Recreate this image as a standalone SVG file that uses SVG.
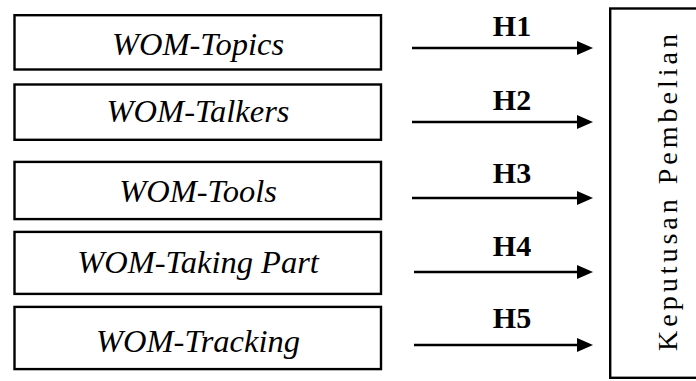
<svg xmlns="http://www.w3.org/2000/svg" width="696" height="381" viewBox="0 0 696 381">
  <style>
    .box { fill: #ffffff; stroke: #000000; stroke-width: 2.4; }
    .shaft { stroke: #000000; stroke-width: 2.6; fill: none; }
    .tip { fill: #000000; stroke: none; }
  </style>
  <defs>
    <polygon id="head" class="tip" points="-16,-7 0,0 -16,7"/>
  </defs>
  <rect width="696" height="381" fill="#ffffff"/>

  <!-- independent variables -->
  <g font-family="Liberation Serif, Times New Roman, serif" font-style="italic" font-size="32.5" text-anchor="middle" fill="#000000">
    <g id="topics">
      <rect class="box" x="14.5" y="15.2" width="366.5" height="54.3"/>
      <text x="198" y="55">WOM-Topics</text>
    </g>
    <g id="talkers">
      <rect class="box" x="14.5" y="84.5" width="366.5" height="55.3"/>
      <text x="198" y="122">WOM-Talkers</text>
    </g>
    <g id="tools">
      <rect class="box" x="14.5" y="161.9" width="366.5" height="57.2"/>
      <text x="198" y="201.5">WOM-Tools</text>
    </g>
    <g id="taking-part">
      <rect class="box" x="14.5" y="231.9" width="366.5" height="62"/>
      <text x="198" y="273.3">WOM-Taking Part</text>
    </g>
    <g id="tracking">
      <rect class="box" x="14.5" y="306.9" width="366.5" height="62.2"/>
      <text x="198" y="351.5">WOM-Tracking</text>
    </g>
  </g>

  <!-- dependent variable -->
  <g id="keputusan">
    <rect class="box" x="610.2" y="8.5" width="100" height="369.3"/>
    <text font-family="Liberation Serif, Times New Roman, serif" font-size="28" letter-spacing="4" fill="#000000" transform="translate(677 351) rotate(-90)">Keputusan Pembelian</text>
  </g>

  <!-- hypothesis arrows -->
  <g id="connectors">
    <line class="shaft" x1="412" y1="48" x2="580" y2="48"/>
    <use href="#head" x="593" y="48"/>
    <line class="shaft" x1="412" y1="122" x2="580" y2="122"/>
    <use href="#head" x="593" y="122"/>
    <line class="shaft" x1="412" y1="198" x2="580" y2="198"/>
    <use href="#head" x="593" y="198"/>
    <line class="shaft" x1="414" y1="272" x2="580" y2="272"/>
    <use href="#head" x="593" y="272"/>
    <line class="shaft" x1="414" y1="345" x2="580" y2="345"/>
    <use href="#head" x="593" y="345"/>
    <g font-family="Liberation Serif, Times New Roman, serif" font-weight="bold" font-size="30" text-anchor="middle" fill="#000000">
      <text x="512" y="35.7">H1</text>
      <text x="512" y="110">H2</text>
      <text x="512" y="183">H3</text>
      <text x="512" y="255.7">H4</text>
      <text x="512" y="328">H5</text>
    </g>
  </g>
</svg>
